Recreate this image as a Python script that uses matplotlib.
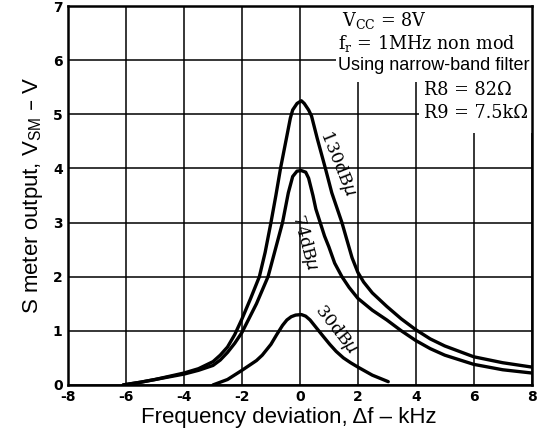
import matplotlib
matplotlib.use("Agg")
import matplotlib.pyplot as plt
from matplotlib.patches import Rectangle

# Data
x130 = [-6.1, -5.5, -5.0, -4.5, -4.0, -3.5, -3.0, -2.75, -2.5, -2.25, -2.0, -1.7, -1.4, -1.2, -1.0, -0.83, -0.67, -0.45, -0.33, -0.25, -0.1, 0.05, 0.15, 0.3, 0.4, 0.6, 0.88, 1.1, 1.45, 1.6, 1.8, 2.0, 2.2, 2.5, 3.0, 3.5, 4.0, 4.5, 5.0, 6.0, 7.0, 8.0]
y130 = [0.0, 0.05, 0.1, 0.16, 0.22, 0.3, 0.43, 0.55, 0.7, 0.93, 1.22, 1.6, 2.0, 2.45, 3.0, 3.5, 4.0, 4.6, 4.93, 5.08, 5.2, 5.25, 5.2, 5.08, 4.97, 4.55, 4.0, 3.55, 3.0, 2.72, 2.35, 2.08, 1.9, 1.7, 1.45, 1.22, 1.02, 0.85, 0.72, 0.52, 0.41, 0.33]

x74 = [-6.1, -5.5, -5.0, -4.5, -4.0, -3.5, -3.0, -2.75, -2.5, -2.25, -2.0, -1.5, -1.1, -0.85, -0.6, -0.4, -0.25, -0.1, 0.05, 0.2, 0.3, 0.45, 0.55, 0.7, 0.85, 1.0, 1.2, 1.45, 1.7, 2.0, 2.5, 3.0, 3.5, 4.0, 4.5, 5.0, 6.0, 7.0, 8.0]
y74 = [0.0, 0.05, 0.1, 0.15, 0.2, 0.27, 0.36, 0.46, 0.6, 0.77, 0.97, 1.5, 2.0, 2.5, 3.0, 3.55, 3.85, 3.95, 3.96, 3.93, 3.82, 3.5, 3.25, 3.0, 2.75, 2.55, 2.25, 2.0, 1.8, 1.6, 1.38, 1.2, 1.0, 0.82, 0.67, 0.55, 0.38, 0.28, 0.22]

x30 = [-3.0, -2.5, -2.0, -1.5, -1.3, -1.0, -0.8, -0.6, -0.45, -0.3, -0.15, 0.05, 0.2, 0.35, 0.5, 0.65, 0.8, 1.03, 1.25, 1.5, 1.75, 2.0, 2.5, 3.05]
y30 = [0.0, 0.1, 0.27, 0.45, 0.55, 0.75, 0.93, 1.1, 1.2, 1.26, 1.29, 1.3, 1.27, 1.2, 1.1, 1.0, 0.9, 0.75, 0.62, 0.5, 0.41, 0.33, 0.18, 0.06]

xticks = [-8, -6, -4, -2, 0, 2, 4, 6, 8]
yticks = [0, 1, 2, 3, 4, 5, 6, 7]

fig = plt.figure(figsize=(5.37, 4.32), dpi=100)
ax = fig.add_axes([0.127, 0.109, 0.863, 0.877])
ax.set_xlim(-8, 8)
ax.set_ylim(0, 7)
ax.set_xticks(xticks)
ax.set_yticks(yticks)
ax.set_xticklabels([str(t) for t in xticks], fontsize=10, fontweight='heavy', family='DejaVu Sans')
ax.set_yticklabels([str(t) for t in yticks], fontsize=10, fontweight='heavy', family='DejaVu Sans')
ax.tick_params(length=0, pad=4)
ax.set_axisbelow(True)
ax.grid(True, color='black', linewidth=1.1)
for s in ax.spines.values():
    s.set_linewidth(1.8)

lc = 'black'
for xs, ys in ((x130, y130), (x74, y74), (x30, y30)):
    ax.plot(xs, ys, color=lc, lw=2.4, solid_joinstyle='round', solid_capstyle='round', zorder=3)

# white boxes behind annotation
ax.add_patch(Rectangle((1.25, 5.6), 6.75, 1.4, facecolor='white', edgecolor='none', zorder=1))
ax.add_patch(Rectangle((4.1, 4.65), 3.9, 1.0, facecolor='white', edgecolor='none', zorder=1))

serif = 'DejaVu Serif'
fs = 12.7
ax.text(1.45, 6.73, r'V$_{\mathregular{CC}}$ = 8V', family=serif, fontsize=fs, va='center', zorder=4)
ax.text(1.3, 6.30, r'f$_{\mathregular{r}}$ = 1MHz non mod', family=serif, fontsize=fs, va='center', zorder=4)
ax.text(1.3, 5.91, 'Using narrow-band filter', family='Liberation Sans', fontsize=13, va='center', zorder=4)
ax.text(4.3, 5.45, 'R8 = 82Ω', family=serif, fontsize=fs, va='center', zorder=4)
ax.text(4.3, 5.03, 'R9 = 7.5kΩ', family=serif, fontsize=fs, va='center', zorder=4)

ax.text(1.32, 4.1, r'130dB$\mu$', family=serif, fontsize=12.5, rotation=-68, ha='center', va='center', zorder=4)
ax.text(0.15, 2.64, r'74dB$\mu$', family=serif, fontsize=12.5, rotation=-75, ha='center', va='center', zorder=4)
ax.text(1.25, 1.02, r'30dB$\mu$', family=serif, fontsize=12.5, rotation=-52, ha='center', va='center', zorder=4)

ax.set_xlabel('Frequency deviation, Δf – kHz', family='Liberation Sans', fontsize=16)
ax.xaxis.set_label_coords(0.476, -0.058)
ax.set_ylabel(r'S meter output, V$_{\mathregular{SM}}$ – V', family='Liberation Sans', fontsize=16, labelpad=6)

fig.savefig('out.png', dpi=100)
